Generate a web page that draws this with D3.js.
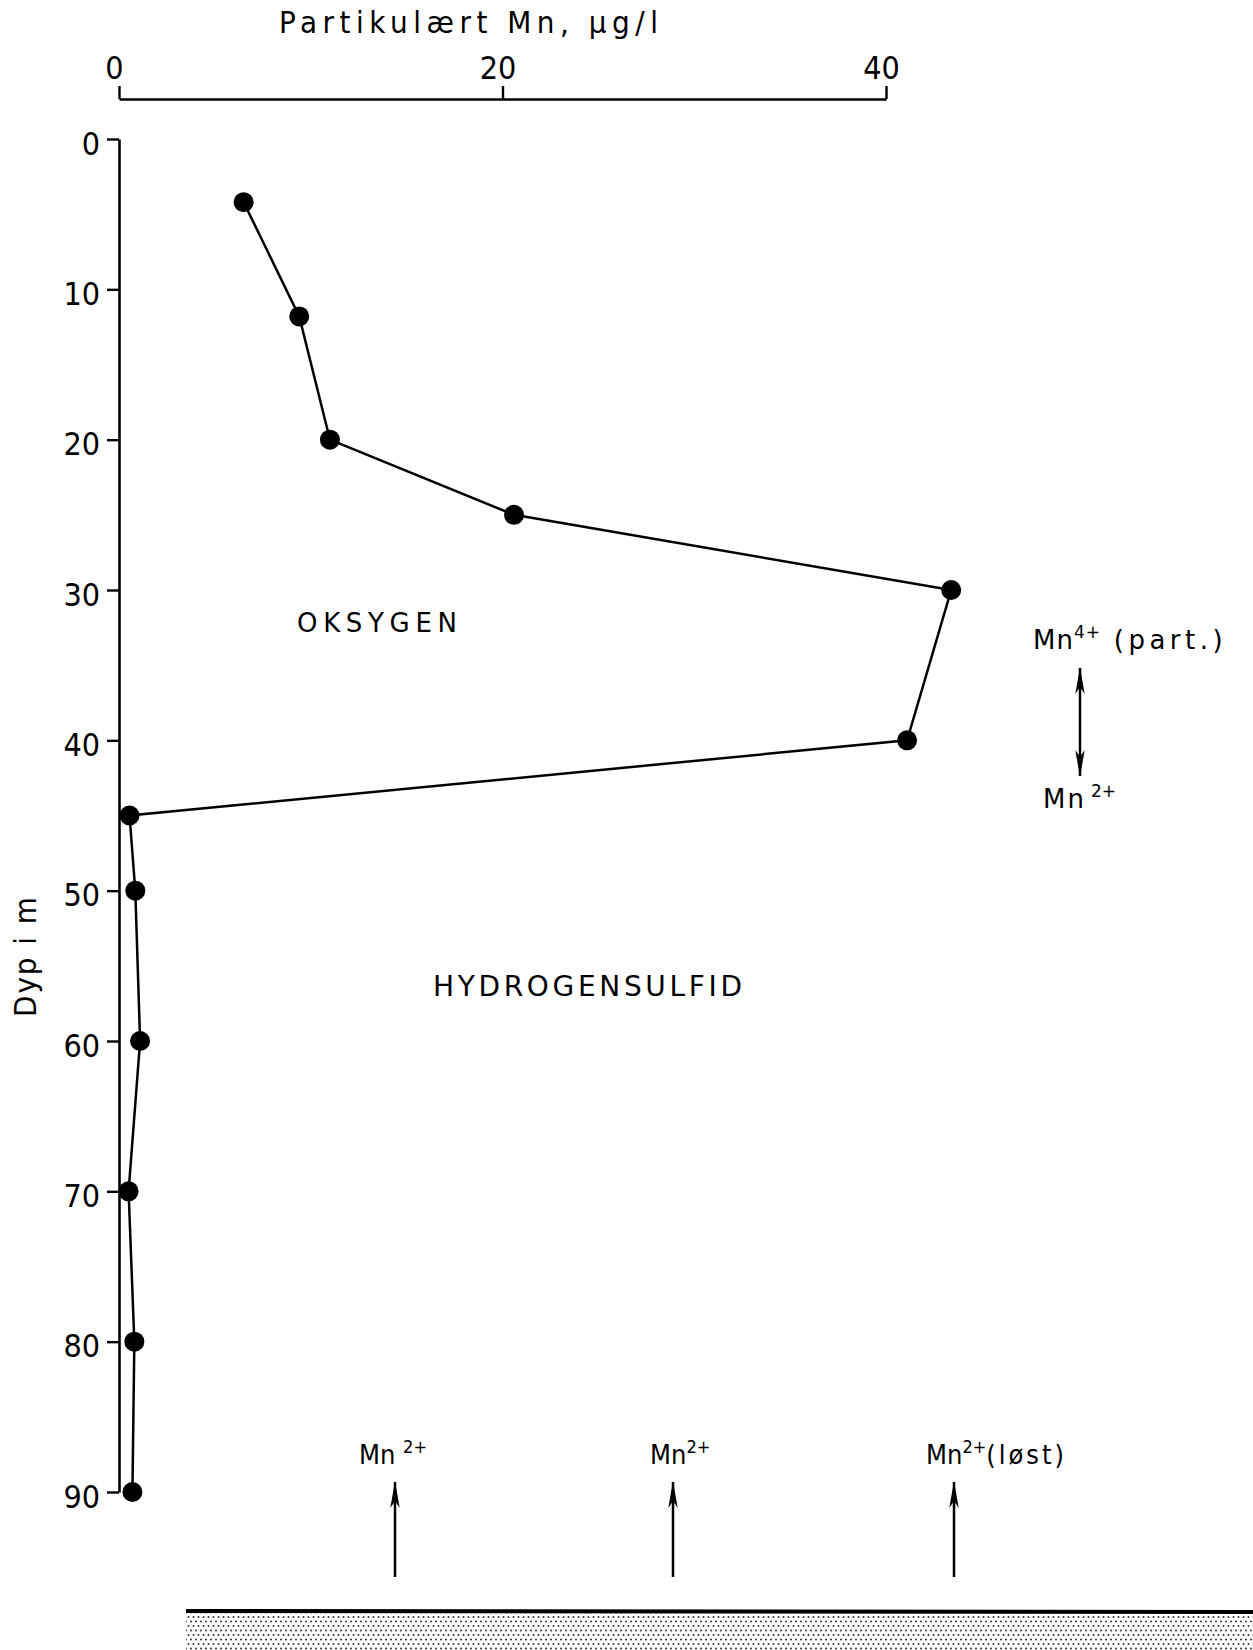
<!DOCTYPE html>
<html><head><meta charset="utf-8">
<script src="https://cdn.jsdelivr.net/npm/d3@7"></script>
<style>
html,body{margin:0;padding:0;background:#fff;}
svg{display:block;}
</style></head>
<body>
<script>
// ---- data ----
const depths = [4.2, 11.8, 20, 25, 30, 40, 45, 50, 60, 70, 80, 90];
const mnParticulate = [6.5, 9.4, 11.0, 20.6, 43.4, 41.1, 0.55, 0.85, 1.1, 0.5, 0.8, 0.7];
const xTicks = [0, 20, 40];
const yTicks = [0, 10, 20, 30, 40, 50, 60, 70, 80, 90];
const xTitle = "Partikulært Mn, µg/l";
const yTitle = "Dyp i m";
const zoneLabels = ["OKSYGEN", "HYDROGENSULFID"];

const W = 1253, H = 1650;
const COND = "'DejaVu Sans Condensed','DejaVu Sans',sans-serif";
const WIDE = "'DejaVu Sans',sans-serif";

const svg = d3.select("body").append("svg").attr("width", W).attr("height", H);

const x = d3.scaleLinear().domain([0, 40]).range([119, 886]);
const y = d3.scaleLinear().domain([0, 90]).range([139, 1492]);

// defs
const defs = svg.append("defs");
const pat = defs.append("pattern").attr("id", "dots").attr("patternUnits", "userSpaceOnUse")
  .attr("width", 5).attr("height", 9);
pat.append("circle").attr("cx", 1).attr("cy", 1.5).attr("r", 1.0).attr("fill", "#333");
pat.append("circle").attr("cx", 3.5).attr("cy", 6).attr("r", 1.0).attr("fill", "#333");
defs.append("marker").attr("id", "head").attr("viewBox", "0 0 28 11")
  .attr("refX", 27).attr("refY", 5.5).attr("markerWidth", 28).attr("markerHeight", 11)
  .attr("markerUnits", "userSpaceOnUse").attr("orient", "auto-start-reverse")
  .append("path").attr("d", "M28,5.5 L1,0.8 L8,5.5 L1,10.2 Z").attr("fill", "#000");

// top axis
const gx = svg.append("g").attr("transform", "translate(0,99)")
  .call(d3.axisTop(x).tickValues(xTicks).tickSize(13).tickSizeOuter(0).tickPadding(8).tickFormat(d3.format("d")));
gx.select(".domain").attr("stroke", "#000").attr("stroke-width", 2.6);
gx.selectAll(".tick line").attr("stroke", "#000").attr("stroke-width", 2.4);
gx.selectAll(".tick text").attr("font-family", COND).attr("font-size", 32).attr("fill", "#000")
  .attr("dx", -5).attr("y", -20);

svg.append("text").attr("x", 279).attr("y", 33).attr("font-family", COND).attr("font-size", 31)
  .attr("textLength", 379).attr("lengthAdjust", "spacing").text(xTitle);

// left axis
const gy = svg.append("g").attr("transform", "translate(119,0)")
  .call(d3.axisLeft(y).tickValues(yTicks).tickSize(12).tickSizeOuter(0).tickPadding(7).tickFormat(d3.format("d")));
gy.select(".domain").attr("stroke", "#000").attr("stroke-width", 2.6);
gy.selectAll(".tick line").attr("stroke", "#000").attr("stroke-width", 2.4);
gy.selectAll(".tick text").attr("font-family", COND).attr("font-size", 32).attr("fill", "#000")
  .attr("dy", "0.38em").attr("transform", "translate(0,3)");

svg.append("text").attr("transform", "translate(36,1017) rotate(-90)")
  .attr("font-family", COND).attr("font-size", 31)
  .attr("textLength", 120).attr("lengthAdjust", "spacing").text(yTitle);

// data line
const pts = depths.map((d, i) => ({ d, v: mnParticulate[i] }));
svg.append("path").datum(pts).attr("fill", "none").attr("stroke", "#000").attr("stroke-width", 2.5)
  .attr("d", d3.line().x(p => x(p.v)).y(p => y(p.d)));
svg.selectAll("circle.pt").data(pts).enter().append("circle").attr("class", "pt")
  .attr("cx", p => x(p.v)).attr("cy", p => y(p.d)).attr("r", 10).attr("fill", "#000");

// zone labels
svg.append("text").attr("x", 297).attr("y", 632).attr("font-family", WIDE).attr("font-size", 26)
  .attr("textLength", 160).attr("lengthAdjust", "spacing").text(zoneLabels[0]);
svg.append("text").attr("x", 433).attr("y", 996).attr("font-family", WIDE).attr("font-size", 28)
  .attr("textLength", 309).attr("lengthAdjust", "spacing").text(zoneLabels[1]);

// Mn4+ (part.) <-> Mn2+
const t1 = svg.append("text").attr("x", 1033).attr("y", 649).attr("font-family", WIDE).attr("font-size", 26)
  .attr("letter-spacing", 1);
t1.append("tspan").text("Mn");
t1.append("tspan").attr("font-size", 17).attr("dy", -11).text("4+");
t1.append("tspan").attr("dy", 11).attr("letter-spacing", 4.5).text(" (part.)");

svg.append("line").attr("x1", 1080).attr("x2", 1080).attr("y1", 668).attr("y2", 776)
  .attr("stroke", "#000").attr("stroke-width", 2.5)
  .attr("marker-start", "url(#head)").attr("marker-end", "url(#head)");

const t2 = svg.append("text").attr("x", 1043).attr("y", 808).attr("font-family", WIDE).attr("font-size", 26)
  .attr("letter-spacing", 2);
t2.append("tspan").text("Mn");
t2.append("tspan").attr("font-size", 17).attr("dy", -11).attr("dx", 5).attr("letter-spacing", 0).text("2+");

// bottom arrows
const bottom = [
  { x: 395, lx: 359, sup: "2+", gap: true, tail: "" },
  { x: 673, lx: 650, sup: "2+", gap: false, tail: "" },
  { x: 954, lx: 926, sup: "2+", gap: false, tail: "(løst)" }
];
bottom.forEach(b => {
  const t = svg.append("text").attr("x", b.lx).attr("y", 1464).attr("font-family", COND).attr("font-size", 27);
  t.append("tspan").text(b.gap ? "Mn " : "Mn");
  t.append("tspan").attr("font-size", 18).attr("dy", -11).text(b.sup);
  if (b.tail) t.append("tspan").attr("dy", 11).attr("letter-spacing", 3).text(b.tail);
  svg.append("line").attr("x1", b.x).attr("x2", b.x).attr("y1", 1577).attr("y2", 1482)
    .attr("stroke", "#000").attr("stroke-width", 2.5).attr("marker-end", "url(#head)");
});

// sediment
svg.append("rect").attr("x", 186).attr("y", 1611).attr("width", W - 186).attr("height", H - 1611)
  .attr("fill", "url(#dots)");
svg.append("line").attr("x1", 186).attr("x2", W).attr("y1", 1611).attr("y2", 1612)
  .attr("stroke", "#000").attr("stroke-width", 4);
</script>
</body></html>
